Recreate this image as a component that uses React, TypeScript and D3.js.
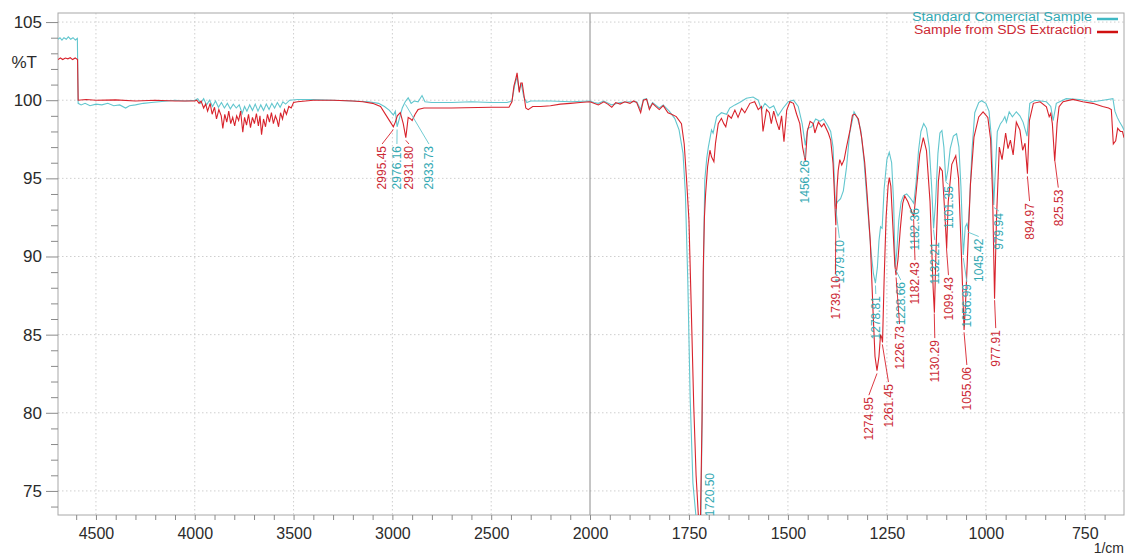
import React, { useEffect, useRef } from "react";
import * as d3 from "d3";

const W = 1126;
const H = 555;

// [wavenumber 1/cm, %T] -- Standard Comercial Sample
const standardHigh: [number, number][] = [
  [4692, 103.9], [4682, 104.0], [4672, 103.85], [4662, 104.0], [4650, 103.9], [4640, 104.05],
  [4628, 103.9], [4616, 104.0], [4604, 103.85], [4594, 103.95], [4590, 99.8], [4575, 99.7],
  [4555, 99.8], [4530, 99.65], [4500, 99.75], [4470, 99.7], [4440, 99.8], [4410, 99.65],
  [4380, 99.7], [4350, 99.5], [4330, 99.65], [4300, 99.7], [4260, 99.8], [4220, 99.85],
  [4180, 99.9], [4140, 99.95], [4100, 100.0], [4050, 99.95], [4000, 100.0], [3985, 100.1],
  [3970, 99.8], [3955, 100.1], [3940, 99.7], [3925, 100.0], [3910, 99.6], [3895, 99.95],
  [3880, 99.55], [3865, 99.85], [3850, 99.5], [3835, 99.8], [3820, 99.45], [3805, 99.75],
  [3790, 99.5], [3775, 99.7], [3760, 99.15], [3748, 99.6], [3736, 99.3], [3722, 99.7],
  [3708, 99.35], [3694, 99.75], [3680, 99.3], [3666, 99.7], [3652, 99.35], [3638, 99.75],
  [3624, 99.4], [3610, 99.8], [3596, 99.5], [3582, 99.85], [3568, 99.55], [3554, 99.9],
  [3540, 99.75], [3520, 100.0], [3480, 100.05], [3400, 100.05], [3300, 100.0], [3200, 99.95],
  [3120, 99.9], [3070, 99.8], [3040, 99.6], [3015, 99.35], [2995, 99.05], [2985, 99.3],
  [2976, 98.3], [2965, 98.8], [2950, 99.5], [2935, 99.9], [2920, 100.15], [2905, 99.8],
  [2890, 99.95], [2870, 99.9], [2850, 100.3], [2835, 99.9], [2800, 99.85], [2700, 99.85],
  [2600, 99.9], [2500, 99.85], [2420, 99.85], [2395, 99.95], [2382, 100.9], [2369, 101.5],
  [2360, 100.7], [2347, 101.0], [2335, 100.2], [2320, 99.85], [2300, 99.95], [2200, 99.95],
  [2100, 99.9], [2000, 99.95],
];

const standardLow: [number, number][] = [
  [1990, 99.85], [1979, 99.8], [1965, 99.95], [1945, 99.7], [1924, 99.85], [1899, 99.9],
  [1882, 99.9], [1872, 99.4], [1865, 100.05], [1857, 100.1], [1850, 99.5], [1842, 99.85],
  [1825, 99.5], [1815, 99.7], [1800, 99.3], [1786, 98.84], [1775, 98.1], [1765, 96.6],
  [1759, 94.0], [1753, 88.5], [1747, 81.0], [1740, 75.5], [1732, 73.3], [1720, 73.0],
  [1716, 81.0], [1713, 90.0], [1710, 94.9], [1705, 96.3], [1701, 97.0], [1693, 98.1],
  [1689, 97.9], [1680, 98.94], [1668, 99.2], [1655, 99.1], [1647, 99.5], [1634, 99.7],
  [1622, 99.85], [1605, 100.12], [1588, 100.2], [1575, 100.0], [1567, 99.4], [1558, 99.8],
  [1546, 99.5], [1536, 99.65], [1525, 99.0], [1512, 99.5], [1499, 99.9], [1486, 100.0],
  [1474, 99.6], [1464, 98.5], [1456, 97.1], [1450, 98.2], [1440, 98.3], [1430, 98.8],
  [1419, 98.65], [1410, 98.8], [1400, 98.4], [1392, 98.0], [1386, 97.0], [1380, 93.2],
  [1375, 93.5], [1367, 93.7], [1360, 94.2], [1352, 95.7], [1344, 97.9], [1333, 99.26],
  [1325, 98.9], [1316, 98.1], [1308, 96.2], [1300, 93.5], [1290, 90.3], [1284, 88.9],
  [1279, 88.3], [1274, 89.3], [1270, 91.0], [1266, 91.9], [1262, 91.8], [1257, 94.3],
  [1250, 96.2], [1244, 96.66], [1238, 96.0], [1233, 93.5], [1229, 89.3], [1225, 90.3],
  [1220, 92.3], [1214, 93.5], [1208, 93.9], [1200, 94.0], [1193, 93.8], [1187, 93.6],
  [1182, 93.4], [1176, 94.8], [1170, 96.8], [1164, 98.0], [1157, 98.5], [1150, 98.2],
  [1143, 97.0], [1137, 94.5], [1132, 91.8], [1127, 93.5], [1121, 96.6], [1116, 97.9],
  [1111, 98.06], [1106, 97.0], [1101, 94.8], [1096, 95.5], [1090, 96.9], [1082, 97.7],
  [1074, 97.85], [1068, 97.0], [1063, 94.5], [1057, 90.1], [1052, 91.9], [1048, 92.1],
  [1045, 91.7], [1041, 93.5], [1035, 96.8], [1028, 99.2], [1018, 99.85], [1011, 99.97],
  [1000, 99.8], [992, 99.3], [986, 97.6], [980, 93.3], [976, 95.5], [971, 98.0],
  [963, 98.5], [957, 98.7], [952, 98.95], [948, 98.6], [941, 99.26], [933, 98.94],
  [923, 99.26], [914, 99.0], [906, 98.6], [896, 97.7], [889, 99.8], [876, 100.0],
  [847, 99.9], [836, 99.6], [830, 98.7], [822, 99.8], [797, 100.1], [763, 100.05],
  [729, 99.9], [704, 100.0], [679, 100.1], [674, 99.3], [668, 98.9], [662, 98.6],
  [655, 98.3], [651, 98.1],
];

// [wavenumber 1/cm, %T] -- Sample from SDS Extraction
const sdsHigh: [number, number][] = [
  [4692, 102.6], [4680, 102.7], [4668, 102.6], [4655, 102.7], [4642, 102.65], [4630, 102.72],
  [4618, 102.6], [4605, 102.7], [4593, 102.6], [4590, 100.0], [4550, 100.05], [4500, 100.0],
  [4400, 100.02], [4300, 99.95], [4200, 100.0], [4100, 99.95], [4000, 99.95], [3990, 100.0],
  [3978, 99.8], [3968, 99.95], [3955, 99.5], [3945, 99.75], [3935, 99.3], [3922, 99.8],
  [3912, 99.1], [3900, 99.55], [3890, 98.8], [3878, 99.4], [3866, 99.0], [3858, 98.2],
  [3848, 99.1], [3838, 98.6], [3828, 99.3], [3818, 98.5], [3808, 98.9], [3798, 98.35],
  [3788, 99.0], [3778, 98.7], [3768, 99.3], [3757, 97.95], [3748, 98.9], [3738, 98.4],
  [3728, 99.1], [3718, 98.25], [3708, 98.9], [3698, 98.5], [3688, 99.15], [3678, 98.35],
  [3670, 99.0], [3662, 97.8], [3652, 98.8], [3642, 98.3], [3632, 99.1], [3622, 98.6],
  [3612, 99.2], [3602, 98.5], [3592, 99.0], [3583, 98.7], [3576, 98.3], [3566, 99.2],
  [3556, 98.8], [3546, 99.4], [3536, 99.1], [3524, 99.6], [3512, 99.5], [3500, 99.85],
  [3480, 99.9], [3400, 100.0], [3300, 100.0], [3200, 99.95], [3150, 99.9],
  [3100, 99.8], [3060, 99.6], [3030, 99.0], [3010, 98.6], [2995, 98.3], [2985, 98.6],
  [2975, 99.0], [2960, 99.2], [2945, 98.5], [2932, 97.6], [2920, 98.9], [2908, 98.8],
  [2900, 98.7], [2885, 99.1], [2870, 99.4], [2840, 99.5], [2700, 99.5], [2500, 99.55],
  [2410, 99.55], [2395, 99.9], [2385, 100.9], [2375, 101.4], [2369, 101.75], [2362, 101.0],
  [2358, 100.5], [2350, 101.1], [2343, 101.1], [2335, 100.4], [2325, 99.5], [2313, 99.4],
  [2290, 99.6], [2250, 99.6], [2200, 99.65], [2150, 99.75], [2100, 99.8], [2050, 99.85],
  [2000, 99.9],
];

const sdsLow: [number, number][] = [
  [1990, 99.8], [1979, 99.7], [1965, 99.9], [1955, 99.75], [1945, 99.55], [1935, 99.85],
  [1924, 99.75], [1912, 99.9], [1899, 99.8], [1890, 99.95], [1882, 99.85], [1872, 99.2],
  [1865, 100.0], [1857, 100.07], [1850, 99.4], [1842, 99.8], [1834, 99.6], [1825, 99.4],
  [1815, 99.65], [1803, 99.2], [1794, 99.1], [1782, 98.95], [1769, 98.5], [1762, 97.2],
  [1756, 94.9], [1750, 92.3], [1744, 86.5], [1738, 80.5], [1732, 76.0], [1726, 73.3],
  [1721, 73.0], [1717, 79.5], [1714, 89.0], [1711, 92.5], [1708, 94.0], [1703, 95.74],
  [1697, 96.8], [1693, 96.38], [1687, 96.06], [1683, 97.24], [1676, 98.5], [1668, 98.84],
  [1662, 98.5], [1657, 98.3], [1651, 99.05], [1643, 98.85], [1634, 99.37], [1626, 98.9],
  [1617, 99.48], [1609, 99.2], [1596, 99.8], [1584, 99.9], [1575, 99.4], [1567, 99.6],
  [1563, 98.0], [1554, 99.4], [1547, 99.2], [1542, 98.5], [1536, 99.3], [1529, 98.65],
  [1522, 98.1], [1516, 99.0], [1510, 97.35], [1503, 99.37], [1495, 99.9], [1486, 99.8],
  [1478, 99.1], [1470, 98.5], [1463, 97.0], [1456, 96.1], [1451, 98.0], [1444, 98.65],
  [1436, 98.5], [1432, 97.9], [1423, 98.6], [1415, 98.3], [1409, 98.5], [1398, 97.9],
  [1392, 97.45], [1386, 95.96], [1379, 92.0], [1376, 94.4], [1373, 95.5], [1369, 96.2],
  [1364, 95.85], [1358, 96.2], [1352, 97.0], [1343, 98.1], [1337, 99.05], [1331, 99.1],
  [1322, 98.8], [1314, 97.66], [1306, 96.0], [1300, 94.0], [1292, 91.0], [1285, 86.5],
  [1280, 83.6], [1275, 82.7], [1270, 83.6], [1266, 85.0], [1263, 84.8], [1261, 84.5],
  [1257, 88.5], [1252, 92.5], [1247, 94.5], [1244, 95.05], [1240, 94.5], [1235, 92.0],
  [1230, 89.5], [1227, 88.8], [1222, 89.8], [1216, 91.8], [1210, 93.4], [1205, 93.87],
  [1197, 93.5], [1188, 92.9], [1182, 92.56], [1175, 94.4], [1167, 96.55], [1158, 97.6],
  [1150, 96.77], [1141, 93.5], [1133, 87.9], [1130, 86.4], [1126, 90.3], [1120, 94.8],
  [1116, 95.7], [1110, 95.47], [1103, 92.45], [1099, 90.5], [1095, 93.5], [1086, 95.9],
  [1076, 96.45], [1069, 95.0], [1062, 90.3], [1055, 85.3], [1052, 86.6], [1047, 89.6],
  [1039, 94.6], [1030, 97.64], [1018, 98.93], [1007, 99.26], [995, 98.9], [988, 97.5],
  [983, 94.0], [978, 87.3], [973, 92.5], [966, 97.0], [959, 96.2], [950, 97.9],
  [944, 96.9], [938, 97.45], [931, 96.5], [923, 98.6], [914, 98.1], [907, 96.8],
  [901, 97.25], [895, 95.3], [890, 98.7], [880, 99.8], [863, 99.9], [847, 99.58],
  [840, 98.94], [836, 99.16], [832, 98.5], [826, 96.1], [820, 98.5], [815, 99.58],
  [805, 99.9], [780, 100.05], [755, 99.9], [730, 99.8], [705, 99.6], [690, 99.5],
  [683, 99.4], [678, 97.2], [672, 97.4], [667, 98.2], [660, 98.0], [655, 98.0], [651, 97.6],
];

// peak labels: [peak wavenumber, label text, label centre wavenumber, label top %T]
const standardPeaks: [number, string, number, number][] = [
  [2976.16, "2976.16", 2977, 97.07], [2933.73, "2933.73", 2815, 97.07],
  [1720.5, "1720.50", 1697, 76.15], [1456.26, "1456.26", 1457, 96.17],
  [1379.1, "1379.10", 1370, 91.05], [1278.81, "1278.81", 1278, 87.47],
  [1228.66, "1228.66", 1215, 88.37], [1182.36, "1182.36", 1179, 93.1],
  [1132.21, "1132.21", 1129, 90.92], [1101.35, "1101.35", 1094.4, 94.5],
  [1056.99, "1056.99", 1048, 88.24], [1045.42, "1045.42", 1018, 91.15],
  [979.94, "979.94", 967, 92.78],
];
const sdsPeaks: [number, string, number, number][] = [
  [2995.45, "2995.45", 3052, 97.07], [2931.8, "2931.80", 2916, 97.07],
  [1379.1, "1739.10", 1380, 88.75], [1274.95, "1274.95", 1295.5, 81.0],
  [1261.45, "1261.45", 1246, 81.84], [1226.73, "1226.73", 1218, 85.55],
  [1182.43, "1182.43", 1179, 89.64], [1130.29, "1130.29", 1129, 84.65],
  [1099.43, "1099.43", 1094.4, 88.68], [1055.06, "1055.06", 1048, 82.93],
  [977.91, "977.91", 975, 85.29], [894.97, "894.97", 889.6, 93.42],
  [825.53, "825.53", 817, 94.28],
];

const xMajor = [4500, 4000, 3500, 3000, 2500, 2000, 1750, 1500, 1250, 1000, 750];
const yMajor = [75, 80, 85, 90, 95, 100, 105];
const seriesNames = ["Standard Comercial Sample", "Sample from SDS Extraction"];

const TEAL = "#62c6ce";
const TEAL_TXT = "#34a9b3";
const RED = "#d8232c";
const RED_TXT = "#cc2a35";
const FONT = "'Liberation Sans', Arial, sans-serif";

function valueAt(data: [number, number][], wn: number) {
  for (let i = 0; i < data.length - 1; i++) {
    const a = data[i], b = data[i + 1];
    if (wn <= a[0] && wn >= b[0]) {
      const t = (a[0] - wn) / (a[0] - b[0] || 1);
      return a[1] + (b[1] - a[1]) * t;
    }
  }
  return data[data.length - 1][1];
}

export default function App() {
  const ref = useRef<SVGSVGElement>(null);

  useEffect(() => {
    const svg = d3.select(ref.current);
    svg.selectAll("*").remove();

    const m = { top: 13, right: 2, bottom: 40, left: 58 };
    // the spectrometer halves the scale above 2000 1/cm
    const x = d3.scaleLinear().domain([4692, 2000, 651]).range([m.left, 590, W - m.right]);
    const y = d3.scaleLinear().domain([73.46, 105.58]).range([H - m.bottom, m.top]);

    const standard = standardHigh.concat(standardLow);
    const sds = sdsHigh.concat(sdsLow);

    svg.append("defs").append("clipPath").attr("id", "plotclip")
      .append("rect")
      .attr("x", m.left).attr("y", m.top)
      .attr("width", W - m.right - m.left).attr("height", H - m.bottom - m.top);

    // grid
    const grid = svg.append("g");
    grid.selectAll(".gy").data(yMajor).enter().append("line")
      .attr("x1", m.left).attr("x2", W - m.right)
      .attr("y1", (d) => y(d)).attr("y2", (d) => y(d))
      .attr("stroke", "#cfcfcf").attr("stroke-dasharray", "1.5,2.5");
    grid.selectAll(".gx").data(xMajor.filter((d) => d !== 2000)).enter().append("line")
      .attr("x1", (d) => x(d)).attr("x2", (d) => x(d))
      .attr("y1", m.top).attr("y2", H - m.bottom)
      .attr("stroke", "#cfcfcf").attr("stroke-dasharray", "1.5,2.5");
    grid.append("line")
      .attr("x1", x(2000)).attr("x2", x(2000))
      .attr("y1", m.top).attr("y2", H - m.bottom)
      .attr("stroke", "#8c8c8c").attr("stroke-width", 1);

    // frame
    svg.append("rect")
      .attr("x", m.left).attr("y", m.top)
      .attr("width", W - m.right - m.left).attr("height", H - m.bottom - m.top)
      .attr("fill", "none").attr("stroke", "#a8a8a8");

    // x axis
    const xMinor: number[] = [];
    for (let v = 4600; v > 2000; v -= 100) if (v % 500 !== 0) xMinor.push(v);
    for (let v = 1950; v >= 700; v -= 50) if (v % 250 !== 0) xMinor.push(v);

    const xAxis = svg.append("g").attr("transform", `translate(0,${H - m.bottom})`)
      .call(d3.axisBottom(x).tickValues(xMajor).tickSize(5).tickPadding(8).tickFormat(d3.format("d")));
    svg.append("g").attr("transform", `translate(0,${H - m.bottom})`)
      .call(d3.axisBottom(x).tickValues(xMinor).tickSize(5).tickFormat(() => ""))
      .call((g) => g.select(".domain").remove())
      .selectAll("line").attr("stroke", "#8a8a8a");
    xAxis.select(".domain").remove();
    xAxis.selectAll("line").attr("stroke", "#8a8a8a");
    xAxis.selectAll("text").attr("font-size", 16).attr("font-family", FONT).attr("fill", "#2b2b2b");

    // y axis
    const yMinor: number[] = [];
    for (let v = 74; v <= 105; v++) if (v % 5 !== 0) yMinor.push(v);
    const yAxis = svg.append("g").attr("transform", `translate(${m.left},0)`)
      .call(d3.axisLeft(y).tickValues(yMajor).tickSize(12).tickPadding(4));
    svg.append("g").attr("transform", `translate(${m.left},0)`)
      .call(d3.axisLeft(y).tickValues(yMinor).tickSize(7).tickFormat(() => ""))
      .call((g) => g.select(".domain").remove())
      .selectAll("line").attr("stroke", "#8a8a8a");
    yAxis.select(".domain").remove();
    yAxis.selectAll("line").attr("stroke", "#8a8a8a");
    yAxis.selectAll("text").attr("font-size", 17).attr("font-family", FONT).attr("fill", "#2b2b2b");

    svg.append("text").attr("x", 37).attr("y", 68).attr("text-anchor", "end")
      .attr("font-size", 17).attr("font-family", FONT).attr("fill", "#2b2b2b").text("%T");
    svg.append("text").attr("x", W - 2).attr("y", 553).attr("text-anchor", "end")
      .attr("font-size", 14).attr("font-family", FONT).attr("fill", "#2b2b2b").text("1/cm");

    // spectra
    const line = d3.line<[number, number]>().x((d) => x(d[0])).y((d) => y(d[1]));
    const plot = svg.append("g").attr("clip-path", "url(#plotclip)");
    plot.append("path").datum(standard).attr("d", line)
      .attr("fill", "none").attr("stroke", TEAL).attr("stroke-width", 1.1);
    plot.append("path").datum(sds).attr("d", line)
      .attr("fill", "none").attr("stroke", RED).attr("stroke-width", 1.1);

    // peak labels
    const drawPeaks = (peaks: [number, string, number, number][], data: [number, number][], lineCol: string, txtCol: string) => {
      const g = svg.append("g");
      peaks.forEach(([wn, label, lwn, top]) => {
        const px = x(wn), py = y(valueAt(data, wn));
        const lx = x(lwn), ly = y(top);
        if (py + 3 < ly - 2) {
          g.append("line").attr("x1", px).attr("y1", py + 3).attr("x2", lx).attr("y2", ly - 2)
            .attr("stroke", lineCol).attr("stroke-width", 0.9);
        }
        g.append("text")
          .attr("transform", `translate(${lx},${ly}) rotate(-90)`)
          .attr("text-anchor", "end").attr("dy", "0.36em")
          .attr("font-size", 12).attr("font-family", FONT).attr("fill", txtCol)
          .text(label);
      });
    };
    drawPeaks(standardPeaks, standard, TEAL, TEAL_TXT);
    drawPeaks(sdsPeaks, sds, RED, RED_TXT);

    // legend
    const legend = svg.append("g");
    seriesNames.forEach((name, i) => {
      const base = 21 + i * 13;
      legend.append("text").attr("x", 1092).attr("y", base).attr("text-anchor", "end")
        .attr("font-size", 12).attr("font-family", FONT).attr("fill", i === 0 ? TEAL_TXT : RED_TXT)
        .attr("textLength", i === 0 ? 180 : 178).attr("lengthAdjust", "spacingAndGlyphs")
        .text(name);
      legend.append("line").attr("x1", 1097).attr("x2", 1118).attr("y1", base - 2).attr("y2", base - 2)
        .attr("stroke", i === 0 ? "#3fb8c4" : "#d01010").attr("stroke-width", 2.5);
    });
  }, []);

  return (
    <svg
      ref={ref}
      width={W}
      height={H}
      style={{ position: "absolute", left: 0, top: 0, background: "#fff", display: "block" }}
    />
  );
}
